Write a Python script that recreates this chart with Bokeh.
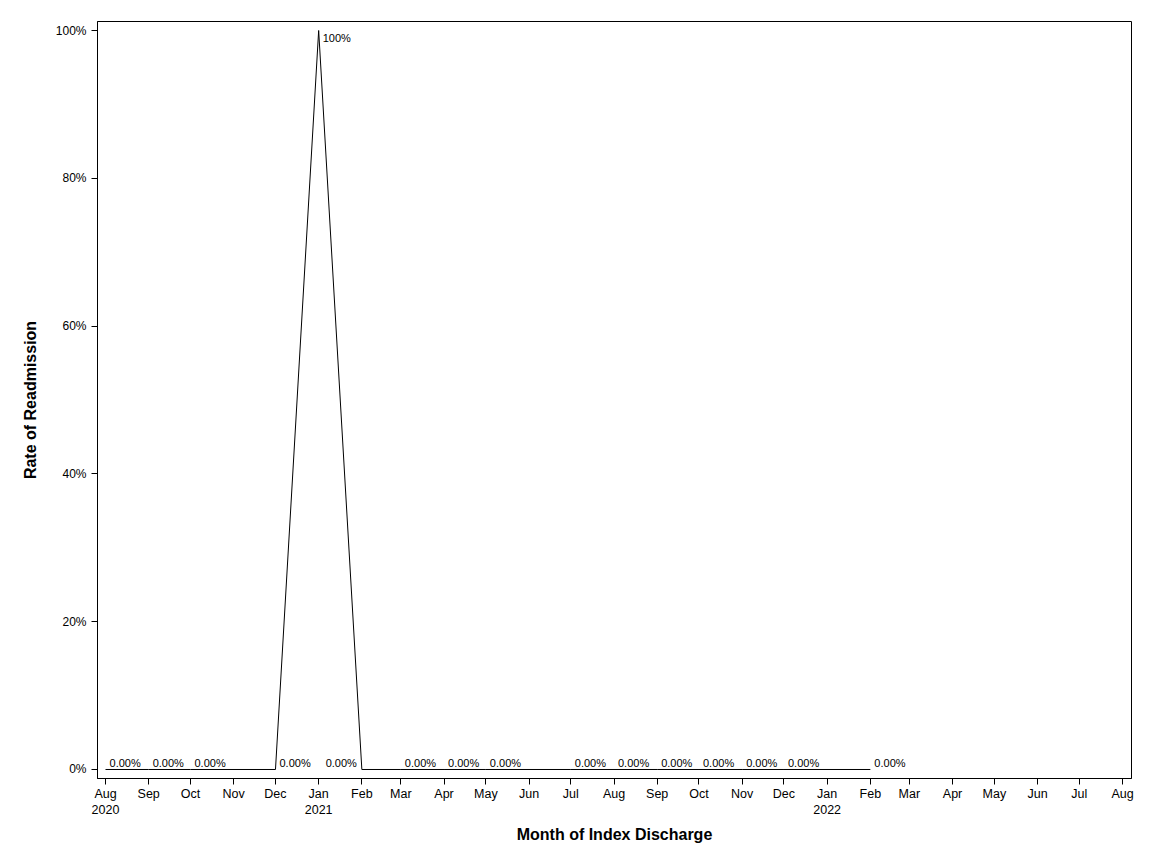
from datetime import datetime
from bokeh.plotting import figure
from bokeh.models import ColumnDataSource, Range1d, FixedTicker, NumeralTickFormatter
from bokeh.core.properties import value
from bokeh.embed import file_html
from bokeh.resources import INLINE

# ---- data ----
months = ["2020-08-01", "2020-09-01", "2020-10-01", "2020-12-01", "2021-01-01",
          "2021-02-01", "2021-03-01", "2021-04-01", "2021-05-01", "2021-07-01",
          "2021-08-01", "2021-09-01", "2021-10-01", "2021-11-01", "2021-12-01",
          "2022-02-01"]
rates = [0.0, 0.0, 0.0, 0.0, 1.0, 0.0, 0.0, 0.0, 0.0, 0.0, 0.0, 0.0, 0.0, 0.0, 0.0, 0.0]
rate_labels = ["0.00%", "0.00%", "0.00%", "0.00%", "100%", "0.00%", "0.00%", "0.00%",
               "0.00%", "0.00%", "0.00%", "0.00%", "0.00%", "0.00%", "0.00%", "0.00%"]
tick_dates = ["2020-08-01", "2020-09-01", "2020-10-01", "2020-11-01", "2020-12-01",
              "2021-01-01", "2021-02-01", "2021-03-01", "2021-04-01", "2021-05-01",
              "2021-06-01", "2021-07-01", "2021-08-01", "2021-09-01", "2021-10-01",
              "2021-11-01", "2021-12-01", "2022-01-01", "2022-02-01", "2022-03-01",
              "2022-04-01", "2022-05-01", "2022-06-01", "2022-07-01", "2022-08-01"]
tick_labels = ["Aug\n2020", "Sep", "Oct", "Nov", "Dec", "Jan\n2021", "Feb", "Mar", "Apr",
               "May", "Jun", "Jul", "Aug", "Sep", "Oct", "Nov", "Dec", "Jan\n2022", "Feb",
               "Mar", "Apr", "May", "Jun", "Jul", "Aug"]
y_ticks = [0.0, 0.2, 0.4, 0.6, 0.8, 1.0]

FONT = "Liberation Sans"

dates = [datetime.strptime(d, "%Y-%m-%d") for d in months]
tick_ms = [datetime.strptime(d, "%Y-%m-%d").timestamp() * 1000 for d in tick_dates]

p = figure(width=1144, height=856, x_axis_type="datetime",
           output_backend="svg", toolbar_location=None,
           min_border_left=97, min_border_right=13, min_border_top=21, min_border_bottom=78,
           x_range=Range1d(datetime(2020, 7, 26, 6), datetime(2022, 8, 7, 11)),
           y_range=Range1d(-0.01218, 1.01218))

p.background_fill_color = "white"
p.border_fill_color = "white"
p.outline_line_color = "black"
p.outline_line_width = 1
p.xgrid.visible = False
p.ygrid.visible = False

src = ColumnDataSource(dict(x=dates, y=rates, lab=rate_labels))
p.line("x", "y", source=src, line_color="black", line_width=1)

# label placement (style logic, not data)
normal_idx, left_idx, peak_idx = [], [], []
ymax = max(rates)
for i, r in enumerate(rates):
    if r == ymax and r > 0:
        peak_idx.append(i)
    elif i > 0 and rates[i - 1] > r:
        left_idx.append(i)
    else:
        normal_idx.append(i)

def sub(idx):
    return ColumnDataSource(dict(x=[dates[i] for i in idx], y=[rates[i] for i in idx],
                                 lab=[rate_labels[i] for i in idx]))

common = dict(text="lab", text_font=value(FONT), text_font_size="11px", text_color="black")
p.text("x", "y", source=sub(normal_idx), x_offset=4, y_offset=-6,
       text_align="left", text_baseline="alphabetic", **common)
p.text("x", "y", source=sub(left_idx), x_offset=-5, y_offset=-6,
       text_align="right", text_baseline="alphabetic", **common)
p.text("x", "y", source=sub(peak_idx), x_offset=4, y_offset=7,
       text_align="left", text_baseline="alphabetic", **common)

# axes
xa = p.xaxis[0]
xa.ticker = FixedTicker(ticks=tick_ms)
xa.major_label_overrides = {t: l for t, l in zip(tick_ms, tick_labels)}
xa.minor_tick_line_color = None
xa.major_tick_in = 0
xa.major_tick_out = 6
xa.axis_line_color = "black"
xa.major_tick_line_color = "black"
xa.major_label_text_font = FONT
xa.major_label_text_font_size = "12.5px"
xa.major_label_text_color = "black"
xa.major_label_standoff = 2
xa.axis_label = "Month of Index Discharge"
xa.axis_label_text_font = FONT
xa.axis_label_text_font_size = "16px"
xa.axis_label_text_font_style = "bold"
xa.axis_label_text_color = "black"
xa.axis_label_standoff = 6

ya = p.yaxis[0]
ya.ticker = FixedTicker(ticks=y_ticks)
ya.formatter = NumeralTickFormatter(format="0%")
ya.minor_tick_line_color = None
ya.major_tick_in = 0
ya.major_tick_out = 6
ya.axis_line_color = "black"
ya.major_tick_line_color = "black"
ya.major_label_text_font = FONT
ya.major_label_text_font_size = "12px"
ya.major_label_text_color = "black"
ya.major_label_standoff = 5
ya.axis_label = "Rate of Readmission"
ya.axis_label_text_font = FONT
ya.axis_label_text_font_size = "16px"
ya.axis_label_text_font_style = "bold"
ya.axis_label_text_color = "black"
ya.axis_label_standoff = 14

open("out.html", "w").write(file_html(p, INLINE))
